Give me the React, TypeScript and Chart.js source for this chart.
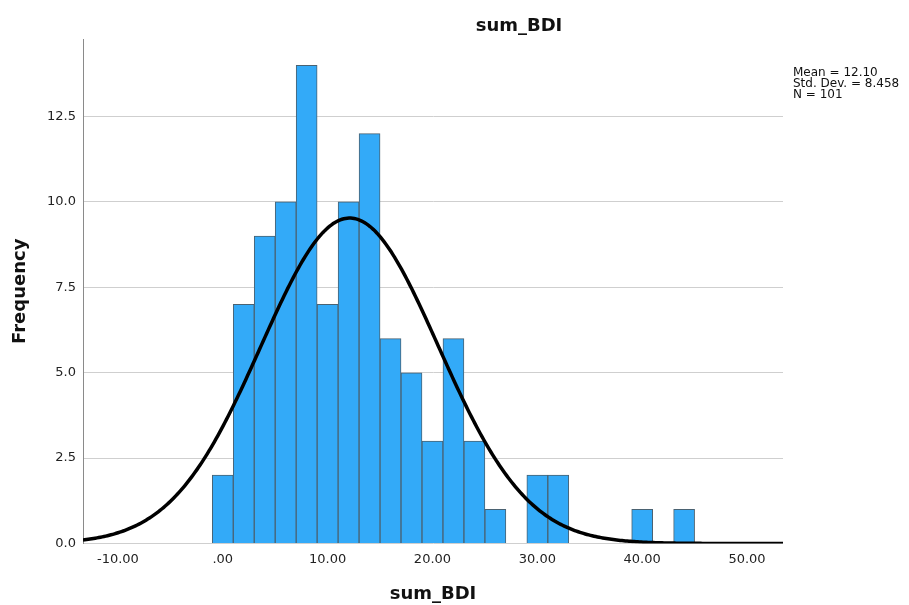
import React, { useEffect, useRef } from "react";
import { Chart, registerables } from "chart.js";

Chart.register(...registerables);

// Histogram data (bin centers, width 2)
const binCenters = [0, 2, 4, 6, 8, 10, 12, 14, 16, 18, 20, 22, 24, 26, 28, 30, 32, 34, 36, 38, 40, 42, 44];
const frequencies = [2, 7, 9, 10, 14, 7, 10, 12, 6, 5, 3, 6, 3, 1, 0, 2, 2, 0, 0, 0, 1, 0, 1];
const BIN_WIDTH = 2;

// Summary statistics
const MEAN = 12.1;
const SD = 8.458;
const N = 101;
const statsLines = ["Mean = 12.10", "Std. Dev. = 8.458", "N = 101"];

// Axis ranges / ticks
const X_MIN = -13.33;
const X_MAX = 53.43;
const Y_MAX = 14.77;
const xTickStep = 10;
const yTickStep = 2.5;

const TITLE = "sum_BDI";
const X_TITLE = "sum_BDI";
const Y_TITLE = "Frequency";

const FONT = "'DejaVu Sans', sans-serif";

function normalCurve() {
  const pts: { x: number; y: number }[] = [];
  const steps = 400;
  for (let i = 0; i <= steps; i++) {
    const x = X_MIN + ((X_MAX - X_MIN) * i) / steps;
    const z = (x - MEAN) / SD;
    const y = (N * BIN_WIDTH * Math.exp(-0.5 * z * z)) / (SD * Math.sqrt(2 * Math.PI));
    pts.push({ x, y });
  }
  return pts;
}

const overlayPlugin = {
  id: "overlay",
  afterDraw(chart: any) {
    const ctx = chart.ctx;
    ctx.save();
    ctx.fillStyle = "#111";
    ctx.textAlign = "center";
    ctx.textBaseline = "alphabetic";
    ctx.font = `bold 18px ${FONT}`;
    ctx.fillText(TITLE, 519, 30.5);
    ctx.textAlign = "left";
    ctx.font = `12px ${FONT}`;
    statsLines.forEach((t, i) => ctx.fillText(t, 793, 75.5 + i * 11));
    ctx.restore();
  },
};

export default function App() {
  const ref = useRef<HTMLCanvasElement | null>(null);
  useEffect(() => {
    if (!ref.current) return;
    const barData = binCenters.map((x, i) => ({ x, y: frequencies[i] === 0 ? null : frequencies[i] }));
    const chart = new Chart(ref.current, {
      type: "bar",
      data: {
        datasets: [
          {
            type: "line",
            data: normalCurve(),
            borderColor: "#000",
            borderWidth: 3.5,
            pointRadius: 0,
            tension: 0,
            order: 0,
          } as any,
          {
            type: "bar",
            data: barData as any,
            backgroundColor: "#33aaf8",
            borderColor: "#4a6272",
            borderWidth: 1,
            borderSkipped: "bottom",
            barPercentage: 1,
            categoryPercentage: 1,
            order: 1,
          } as any,
        ],
      },
      options: {
        responsive: false,
        animation: false,
        layout: { padding: { top: 39, right: 126, left: 0, bottom: 0 } },
        plugins: { legend: { display: false }, title: { display: false }, tooltip: { enabled: false } },
        scales: {
          x: {
            type: "linear",
            min: X_MIN,
            max: X_MAX,
            offset: false,
            grid: { display: false, drawTicks: false },
            border: { display: false },
            ticks: {
              stepSize: xTickStep,
              includeBounds: false,
              padding: 8,
              color: "#222",
              font: { family: FONT, size: 13 },
              maxRotation: 0,
              callback: (v: any) => (Number(v) === 0 ? ".00" : Number(v).toFixed(2)),
            },
            title: {
              display: true,
              text: X_TITLE,
              color: "#111",
              font: { family: FONT, size: 18, weight: "bold" },
              padding: { top: 0, bottom: 0 },
            },
            afterFit: (s: any) => {
              s.height = 61.5;
            },
          },
          y: {
            min: 0,
            max: Y_MAX,
            grid: { color: "#cfcfcf", lineWidth: 1, drawTicks: false },
            border: { display: true, color: "#8a8a8a", width: 1 },
            ticks: {
              stepSize: yTickStep,
              includeBounds: false,
              padding: 7,
              color: "#222",
              font: { family: FONT, size: 13 },
              callback: (v: any) => Number(v).toFixed(1),
            },
            title: {
              display: true,
              text: Y_TITLE,
              color: "#111",
              font: { family: FONT, size: 18, weight: "bold" },
              padding: { top: 10, bottom: 0 },
            },
            afterFit: (s: any) => {
              s.width = 83;
            },
          },
        },
      } as any,
      plugins: [overlayPlugin],
    });
    return () => chart.destroy();
  }, []);
  return (
    <canvas
      ref={ref}
      width={909}
      height={605}
      style={{ position: "absolute", left: 0, top: 0, display: "block" }}
    />
  );
}
